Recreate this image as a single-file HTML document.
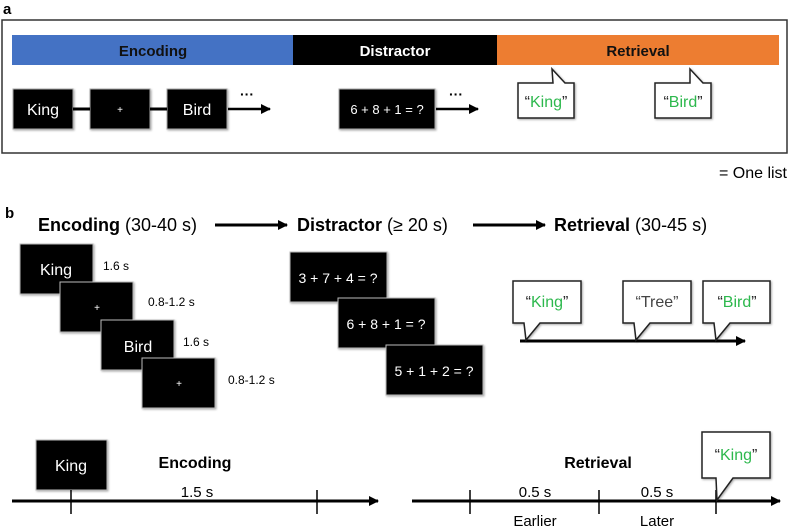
<!DOCTYPE html>
<html><head><meta charset="utf-8"><style>
html,body{margin:0;padding:0;background:#fff;}
svg{display:block;font-family:"Liberation Sans",Arial,sans-serif;}
</style></head><body>
<svg width="790" height="527" viewBox="0 0 790 527" xmlns="http://www.w3.org/2000/svg">
<defs>
<marker id="ah" markerWidth="10" markerHeight="10" refX="9" refY="5" orient="auto" markerUnits="userSpaceOnUse"><path d="M0,0 L10,5 L0,10 z" fill="#000"/></marker>
<filter id="sh" x="-10%" y="-10%" width="130%" height="130%"><feDropShadow dx="1" dy="1" stdDeviation="1" flood-color="#000" flood-opacity="0.35"/></filter>
</defs>
<!-- panel a -->
<text x="3" y="14" font-size="15" font-weight="bold">a</text>
<rect x="2" y="20" width="785" height="133" fill="none" stroke="#333" stroke-width="1.5"/>
<rect x="12" y="35" width="282" height="30" fill="#4472c4"/>
<rect x="293" y="35" width="205" height="30" fill="#000"/>
<rect x="497" y="35" width="282" height="30" fill="#ed7d31"/>
<text x="153" y="56" font-size="15" font-weight="bold" text-anchor="middle" fill="#111">Encoding</text>
<text x="395" y="56" font-size="15" font-weight="bold" text-anchor="middle" fill="#fff">Distractor</text>
<text x="638" y="56" font-size="15" font-weight="bold" text-anchor="middle" fill="#111">Retrieval</text>
<g filter="url(#sh)">
<rect x="13" y="89" width="60" height="40" fill="#000" stroke="#aaa"/>
<rect x="90" y="89" width="60" height="40" fill="#000" stroke="#aaa"/>
<rect x="167" y="89" width="60" height="40" fill="#000" stroke="#aaa"/>
<rect x="339" y="89" width="96" height="40" fill="#000" stroke="#aaa"/>
</g>
<line x1="73" y1="109" x2="90" y2="109" stroke="#000" stroke-width="3"/>
<line x1="150" y1="109" x2="167" y2="109" stroke="#000" stroke-width="3"/>
<text x="43" y="115" font-size="16" fill="#fff" text-anchor="middle">King</text>
<text x="120" y="113" font-size="10" fill="#fff" text-anchor="middle">+</text>
<text x="197" y="115" font-size="16" fill="#fff" text-anchor="middle">Bird</text>
<text x="387" y="114" font-size="13" fill="#fff" text-anchor="middle">6 + 8 + 1 = ?</text>
<line x1="228" y1="109" x2="270" y2="109" stroke="#000" stroke-width="2.5" marker-end="url(#ah)"/>
<text x="247" y="99" font-size="14" font-weight="bold" text-anchor="middle">···</text>
<line x1="436" y1="109" x2="478" y2="109" stroke="#000" stroke-width="2.5" marker-end="url(#ah)"/>
<text x="456" y="99" font-size="14" font-weight="bold" text-anchor="middle">···</text>
<g fill="#fff" stroke="#222" stroke-width="1.5" filter="url(#sh)">
<path d="M518,83 L553,83 L552,69 L565,83 L574,83 L574,118 L518,118 z"/>
<path d="M655,83 L690,83 L690,69 L703,83 L711,83 L711,118 L655,118 z"/>
</g>
<text x="546" y="107" font-size="16" text-anchor="middle" fill="#2db84d"><tspan fill="#222">“</tspan>King<tspan fill="#222">”</tspan></text>
<text x="683" y="107" font-size="16" text-anchor="middle" fill="#2db84d"><tspan fill="#222">“</tspan>Bird<tspan fill="#222">”</tspan></text>
<text x="787" y="178" font-size="16" text-anchor="end">= One list</text>
<!-- panel b -->
<text x="5" y="218" font-size="15" font-weight="bold">b</text>
<text x="38" y="231" font-size="18"><tspan font-weight="bold">Encoding</tspan> (30-40 s)</text>
<line x1="215" y1="225" x2="287" y2="225" stroke="#000" stroke-width="3" marker-end="url(#ah)"/>
<text x="297" y="231" font-size="18"><tspan font-weight="bold">Distractor</tspan> (≥ 20 s)</text>
<line x1="473" y1="225" x2="545" y2="225" stroke="#000" stroke-width="3" marker-end="url(#ah)"/>
<text x="554" y="231" font-size="18"><tspan font-weight="bold">Retrieval</tspan> (30-45 s)</text>
<g filter="url(#sh)" stroke="#bbb">
<rect x="20" y="244" width="73" height="50" fill="#000"/>
<rect x="60" y="282" width="73" height="50" fill="#000"/>
<rect x="101" y="320" width="73" height="50" fill="#000"/>
<rect x="142" y="358" width="73" height="50" fill="#000"/>
<rect x="290" y="252" width="97" height="50" fill="#000"/>
<rect x="338" y="298" width="97" height="50" fill="#000"/>
<rect x="386" y="345" width="97" height="50" fill="#000"/>
</g>
<text x="56" y="275" font-size="16" fill="#fff" text-anchor="middle">King</text>
<text x="97" y="311" font-size="10" fill="#fff" text-anchor="middle">+</text>
<text x="138" y="352" font-size="16" fill="#fff" text-anchor="middle">Bird</text>
<text x="179" y="387" font-size="10" fill="#fff" text-anchor="middle">+</text>
<text x="103" y="270" font-size="12">1.6 s</text>
<text x="148" y="306" font-size="12">0.8-1.2 s</text>
<text x="183" y="346" font-size="12">1.6 s</text>
<text x="228" y="384" font-size="12">0.8-1.2 s</text>
<text x="338" y="283" font-size="14" fill="#fff" text-anchor="middle">3 + 7 + 4 = ?</text>
<text x="386" y="329" font-size="14" fill="#fff" text-anchor="middle">6 + 8 + 1 = ?</text>
<text x="434" y="376" font-size="14" fill="#fff" text-anchor="middle">5 + 1 + 2 = ?</text>
<line x1="520" y1="341" x2="745" y2="341" stroke="#000" stroke-width="3" marker-end="url(#ah)"/>
<g fill="#fff" stroke="#222" stroke-width="1.5" filter="url(#sh)">
<path d="M513,281 L581,281 L581,323 L540,323 L526,340 L524,323 L513,323 z"/>
<path d="M623,281 L691,281 L691,323 L650,323 L636,340 L634,323 L623,323 z"/>
<path d="M703,281 L770,281 L770,323 L730,323 L716,340 L714,323 L703,323 z"/>
</g>
<text x="547" y="307" font-size="16" text-anchor="middle" fill="#2db84d"><tspan fill="#222">“</tspan>King<tspan fill="#222">”</tspan></text>
<text x="657" y="307" font-size="16" text-anchor="middle" fill="#444">“Tree”</text>
<text x="737" y="307" font-size="16" text-anchor="middle" fill="#2db84d"><tspan fill="#222">“</tspan>Bird<tspan fill="#222">”</tspan></text>
<!-- bottom -->
<rect x="36" y="440" width="71" height="50" fill="#000" stroke="#bbb" filter="url(#sh)"/>
<text x="71" y="471" font-size="16" fill="#fff" text-anchor="middle">King</text>
<text x="195" y="468" font-size="16" font-weight="bold" text-anchor="middle">Encoding</text>
<text x="197" y="497" font-size="15" text-anchor="middle">1.5 s</text>
<line x1="12" y1="501" x2="378" y2="501" stroke="#000" stroke-width="3" marker-end="url(#ah)"/>
<line x1="71" y1="490" x2="71" y2="514" stroke="#000" stroke-width="1.5"/>
<line x1="317" y1="490" x2="317" y2="514" stroke="#000" stroke-width="1.5"/>
<text x="598" y="468" font-size="16" font-weight="bold" text-anchor="middle">Retrieval</text>
<text x="535" y="497" font-size="15" text-anchor="middle">0.5 s</text>
<text x="657" y="497" font-size="15" text-anchor="middle">0.5 s</text>
<line x1="412" y1="501" x2="780" y2="501" stroke="#000" stroke-width="3" marker-end="url(#ah)"/>
<line x1="470" y1="490" x2="470" y2="514" stroke="#000" stroke-width="1.5"/>
<line x1="599" y1="490" x2="599" y2="514" stroke="#000" stroke-width="1.5"/>
<line x1="716" y1="490" x2="716" y2="514" stroke="#000" stroke-width="1.5"/>
<text x="535" y="526" font-size="15" text-anchor="middle">Earlier</text>
<text x="657" y="526" font-size="15" text-anchor="middle">Later</text>
<path d="M702,432 L770,432 L770,478 L733,478 L717,500 L716,478 L702,478 z" fill="#fff" stroke="#222" stroke-width="1.5" filter="url(#sh)"/>
<text x="736" y="460" font-size="16" text-anchor="middle" fill="#2db84d"><tspan fill="#222">“</tspan>King<tspan fill="#222">”</tspan></text>
</svg>
</body></html>
